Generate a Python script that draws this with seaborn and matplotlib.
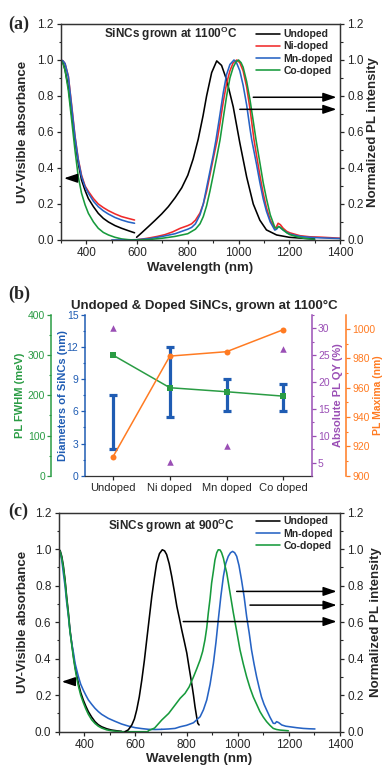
import numpy as np
import pandas as pd
import matplotlib
matplotlib.use("Agg")
import matplotlib.pyplot as plt
from matplotlib.ticker import MultipleLocator, FormatStrFormatter
import seaborn as sns

# ---------------- data: panel (a), SiNCs grown at 1100 C ----------------
a_abs_wl = [300, 308, 316, 329, 342, 355, 368, 381, 395, 408, 428, 447, 467, 487, 513, 539, 565, 590]
a_abs_undoped = [1.0, 0.985, 0.944, 0.85, 0.70, 0.556, 0.426, 0.333, 0.275, 0.23, 0.185, 0.148, 0.12, 0.10, 0.08, 0.065, 0.052, 0.04]
a_abs_ni = [1.0, 0.995, 0.98, 0.91, 0.75, 0.58, 0.45, 0.36, 0.30, 0.27, 0.23, 0.20, 0.18, 0.163, 0.145, 0.13, 0.12, 0.111]
a_abs_mn = [1.0, 0.995, 0.98, 0.907, 0.74, 0.574, 0.444, 0.352, 0.295, 0.26, 0.215, 0.185, 0.162, 0.144, 0.125, 0.111, 0.10, 0.093]
a_abs_co = [1.0, 0.98, 0.944, 0.83, 0.667, 0.50, 0.352, 0.26, 0.195, 0.148, 0.10, 0.065, 0.042, 0.028, 0.015, 0.006, 0.002, 0.0]

a_pl_undoped_wl = [598, 618, 645, 670, 697, 723, 750, 776, 800, 821, 841, 860, 874, 894, 914, 933, 953, 979, 1005, 1032, 1058, 1084, 1110, 1150, 1200, 1250, 1300]
a_pl_undoped = [0.015, 0.04, 0.075, 0.108, 0.145, 0.185, 0.235, 0.29, 0.36, 0.45, 0.56, 0.69, 0.80, 0.93, 0.995, 0.97, 0.89, 0.74, 0.54, 0.35, 0.20, 0.11, 0.056, 0.028, 0.015, 0.01, 0.006]

a_pl_ni_wl = [590, 620, 650, 680, 710, 740, 770, 800, 815, 830, 848, 861, 874, 887, 900, 916, 927, 940, 953, 966, 979, 993, 1005, 1018, 1032, 1045, 1061, 1071, 1084, 1097, 1110, 1125, 1143, 1150, 1156, 1165, 1176, 1190, 1202, 1242, 1280, 1320, 1360, 1400]
a_pl_ni = [0.0, 0.005, 0.012, 0.02, 0.03, 0.045, 0.065, 0.08, 0.09, 0.11, 0.15, 0.20, 0.27, 0.36, 0.45, 0.556, 0.65, 0.77, 0.87, 0.94, 0.985, 1.0, 0.985, 0.94, 0.85, 0.73, 0.556, 0.47, 0.36, 0.26, 0.18, 0.11, 0.065, 0.075, 0.093, 0.085, 0.065, 0.048, 0.04, 0.024, 0.018, 0.016, 0.013, 0.01]

a_pl_mn_wl = [500, 550, 600, 650, 700, 750, 800, 815, 830, 848, 861, 874, 887, 900, 911, 927, 940, 953, 966, 982, 992, 1005, 1018, 1032, 1045, 1052, 1071, 1084, 1097, 1110, 1125, 1143, 1150, 1158, 1165, 1176, 1190, 1202, 1242, 1280, 1320, 1360, 1400]
a_pl_mn = [0.0, 0.0, 0.002, 0.008, 0.02, 0.035, 0.06, 0.07, 0.09, 0.14, 0.20, 0.29, 0.38, 0.47, 0.556, 0.70, 0.82, 0.92, 0.975, 1.0, 0.985, 0.94, 0.86, 0.75, 0.62, 0.556, 0.42, 0.32, 0.23, 0.16, 0.10, 0.055, 0.06, 0.075, 0.068, 0.055, 0.042, 0.033, 0.02, 0.015, 0.012, 0.01, 0.008]

a_pl_co_wl = [550, 600, 650, 700, 750, 800, 830, 848, 861, 874, 887, 900, 914, 927, 940, 953, 966, 979, 990, 1000, 1010, 1018, 1032, 1045, 1058, 1069, 1084, 1097, 1110, 1125, 1143, 1150, 1158, 1165, 1176, 1190, 1202, 1230, 1255, 1280, 1300]
a_pl_co = [0.0, 0.0, 0.003, 0.01, 0.02, 0.035, 0.06, 0.09, 0.13, 0.19, 0.27, 0.36, 0.46, 0.556, 0.68, 0.80, 0.90, 0.96, 0.99, 1.0, 0.985, 0.96, 0.88, 0.78, 0.66, 0.556, 0.43, 0.32, 0.23, 0.14, 0.07, 0.065, 0.075, 0.07, 0.056, 0.04, 0.03, 0.018, 0.01, 0.006, 0.004]

# ---------------- data: panel (b) ----------------
b_categories = ["Undoped", "Ni doped", "Mn doped", "Co doped"]
b_fwhm_meV = [300, 219, 209, 198]
b_diam_low = [2.5, 5.5, 6.0, 6.0]
b_diam_high = [7.5, 12.0, 9.0, 8.6]
b_qy_pct = [30.0, 5.1, 8.2, 26.2]
b_pl_max_nm = [913, 981.5, 984.5, 999.5]

# ---------------- data: panel (c), SiNCs grown at 900 C ----------------
c_abs_undoped_wl = [300, 306, 312, 318, 325, 331, 338, 344, 351, 358, 364, 371, 377, 386, 396, 406, 416, 429, 442, 455, 468, 488, 507, 527, 546]
c_abs_undoped = [1.0, 0.99, 0.96, 0.91, 0.83, 0.74, 0.65, 0.56, 0.484, 0.41, 0.356, 0.305, 0.265, 0.215, 0.174, 0.14, 0.11, 0.08, 0.055, 0.038, 0.027, 0.016, 0.009, 0.005, 0.002]
c_abs_co_wl = [300, 306, 312, 318, 325, 331, 338, 344, 351, 358, 364, 371, 377, 386, 396, 406, 416, 429, 442, 455, 468, 488, 507, 527, 546, 600, 650]
c_abs_co = [1.0, 0.985, 0.95, 0.90, 0.82, 0.73, 0.64, 0.55, 0.475, 0.40, 0.345, 0.29, 0.25, 0.20, 0.16, 0.125, 0.095, 0.065, 0.045, 0.03, 0.02, 0.01, 0.005, 0.002, 0.0, 0.0, 0.0]
c_abs_mn_wl = [300, 306, 312, 318, 325, 331, 338, 344, 351, 358, 364, 371, 377, 386, 396, 406, 416, 429, 442, 455, 468, 494, 520, 546, 572, 599, 625, 651, 677, 703]
c_abs_mn = [1.0, 0.98, 0.94, 0.87, 0.795, 0.71, 0.63, 0.55, 0.484, 0.43, 0.375, 0.335, 0.302, 0.26, 0.228, 0.20, 0.174, 0.15, 0.128, 0.11, 0.095, 0.073, 0.057, 0.042, 0.031, 0.022, 0.017, 0.013, 0.012, 0.013]

c_pl_undoped_wl = [559, 572, 586, 596, 605, 615, 625, 635, 644, 654, 664, 674, 683, 694, 705, 714, 722, 732, 742, 752, 762, 772, 781, 791, 801, 810, 820, 827, 833, 839, 844, 849]
c_pl_undoped = [0.0, 0.01, 0.037, 0.07, 0.119, 0.19, 0.283, 0.39, 0.50, 0.62, 0.74, 0.84, 0.923, 0.975, 0.996, 0.99, 0.97, 0.92, 0.85, 0.77, 0.686, 0.62, 0.558, 0.495, 0.43, 0.35, 0.265, 0.20, 0.137, 0.085, 0.046, 0.037]
c_pl_co_wl = [650, 675, 703, 730, 755, 775, 794, 810, 827, 840, 853, 863, 872, 879, 885, 892, 898, 905, 911, 918, 924, 931, 937, 944, 950, 957, 970, 983, 996, 1009, 1022, 1035, 1048, 1061, 1074, 1087, 1100, 1113, 1126, 1139, 1152, 1165, 1182, 1198]
c_pl_co = [0.005, 0.02, 0.064, 0.10, 0.146, 0.183, 0.21, 0.245, 0.30, 0.345, 0.393, 0.44, 0.503, 0.57, 0.65, 0.73, 0.814, 0.88, 0.94, 0.98, 0.996, 0.995, 0.98, 0.95, 0.91, 0.87, 0.76, 0.65, 0.55, 0.448, 0.37, 0.30, 0.24, 0.19, 0.15, 0.11, 0.08, 0.055, 0.035, 0.018, 0.012, 0.009, 0.007, 0.005]
c_pl_mn_wl = [703, 730, 755, 775, 800, 827, 853, 866, 879, 892, 905, 915, 924, 934, 944, 953, 963, 972, 980, 988, 996, 1005, 1015, 1025, 1035, 1045, 1054, 1064, 1074, 1084, 1093, 1103, 1113, 1126, 1139, 1146, 1152, 1160, 1172, 1188, 1204, 1230, 1256, 1280, 1302]
c_pl_mn = [0.013, 0.015, 0.018, 0.027, 0.035, 0.049, 0.082, 0.12, 0.174, 0.26, 0.375, 0.49, 0.612, 0.74, 0.85, 0.92, 0.96, 0.98, 0.987, 0.98, 0.96, 0.91, 0.83, 0.74, 0.63, 0.54, 0.448, 0.37, 0.30, 0.24, 0.19, 0.15, 0.119, 0.08, 0.046, 0.045, 0.055, 0.05, 0.037, 0.03, 0.027, 0.022, 0.018, 0.016, 0.015]

# ---------------- style ----------------
sns.set_style("ticks")
plt.rcParams['font.family'] = ['Liberation Sans', 'DejaVu Sans']
plt.rcParams['mathtext.fontset'] = 'custom'
plt.rcParams['mathtext.rm'] = 'Liberation Sans'
plt.rcParams['mathtext.bf'] = 'Liberation Sans:bold'
plt.rcParams['axes.linewidth'] = 0.9
plt.rcParams['axes.edgecolor'] = '#333333'

BLACK = '#000000'
RED = '#f02a2a'
BLUE = '#2663c4'
GREEN = '#179a3c'
B_GREEN = '#2a9c44'
B_BLUE = '#1f5cb3'
B_PURPLE = '#9a4fb5'
B_ORANGE = '#ff7b22'

W, H = 382, 767
fig = plt.figure(figsize=(W / 100, H / 100), dpi=100)


def rect(l, t, r, b):
    return [l / W, 1 - b / H, (r - l) / W, (b - t) / H]


def line(ax, x, y, color, label=None, lw=1.15):
    sns.lineplot(x=x, y=y, ax=ax, color=color, lw=lw, sort=False,
                 estimator=None, label=label, legend=False)


def spectrum_axes(ax):
    ax.set_xlim(300, 1400)
    ax.set_ylim(0, 1.2)
    ax.xaxis.set_major_locator(MultipleLocator(200))
    ax.xaxis.set_minor_locator(MultipleLocator(100))
    ax.yaxis.set_major_locator(MultipleLocator(0.2))
    ax.yaxis.set_minor_locator(MultipleLocator(0.1))
    ax.yaxis.set_major_formatter(FormatStrFormatter('%.1f'))
    ax.tick_params(which='major', length=3.2, width=0.9, labelsize=8.5, pad=2, top=False, right=False)
    ax.tick_params(which='minor', length=1.8, width=0.8, top=False, right=False)
    ax.set_xlabel('Wavelength (nm)', fontsize=9.5, fontweight='bold')
    ax.set_ylabel('UV-Visible absorbance', fontsize=9.5, fontweight='bold')
    ax2 = ax.twinx()
    ax2.set_ylim(0, 1.2)
    ax2.yaxis.set_major_locator(MultipleLocator(0.2))
    ax2.yaxis.set_minor_locator(MultipleLocator(0.1))
    ax2.yaxis.set_major_formatter(FormatStrFormatter('%.1f'))
    ax2.tick_params(which='major', length=3.2, width=0.9, labelsize=8.5, pad=2)
    ax2.tick_params(which='minor', length=1.8, width=0.8)
    ax2.set_ylabel('Normalized PL intensity', fontsize=9.5, fontweight='bold')
    return ax2


def arrow(ax, x0, x1, y):
    ax.annotate('', xy=(x1, y), xytext=(x0, y),
                arrowprops=dict(arrowstyle='-|>,head_length=0.8,head_width=0.27',
                                color='black', lw=1.1, mutation_scale=10,
                                shrinkA=0, shrinkB=0))


# ---------------- panel (a) ----------------
axA = fig.add_axes(rect(61, 24, 340, 240))
line(axA, a_abs_wl, a_abs_undoped, BLACK)
line(axA, a_abs_wl, a_abs_ni, RED)
line(axA, a_abs_wl, a_abs_mn, BLUE)
line(axA, a_abs_wl, a_abs_co, GREEN)
line(axA, a_pl_undoped_wl, a_pl_undoped, BLACK, 'Undoped')
line(axA, a_pl_ni_wl, a_pl_ni, RED, 'Ni-doped')
line(axA, a_pl_mn_wl, a_pl_mn, BLUE, 'Mn-doped')
line(axA, a_pl_co_wl, a_pl_co, GREEN, 'Co-doped')
axA2 = spectrum_axes(axA)
axA.xaxis.set_label_coords(0.5, -0.10)
axA.yaxis.set_label_coords(-0.115, 0.5)
axA2.yaxis.set_label_coords(1.097, 0.5)
axA.text(0.394, 0.955, r'SiNCs grown at 1100$^{\mathbf{O}}$C', transform=axA.transAxes,
         ha='center', va='center', fontsize=8.5, fontweight='bold')
axA.legend(loc='upper right', bbox_to_anchor=(0.975, 0.975), frameon=False,
           prop={'weight': 'bold', 'size': 7.5}, handlelength=2.3,
           labelspacing=0.2, handletextpad=0.3, borderaxespad=0, borderpad=0)
arrow(axA, 365, 312, 0.343)
arrow(axA, 1058, 1386, 0.793)
arrow(axA, 1005, 1386, 0.726)

# ---------------- panel (b) ----------------
axB = fig.add_axes(rect(84.7, 315, 311.7, 475.7))
xpos = np.arange(len(b_categories))
axB.errorbar(xpos, b_diam_low, yerr=[np.zeros(len(xpos)), np.subtract(b_diam_high, b_diam_low)],
             fmt='none', ecolor=B_BLUE, elinewidth=2.3, capsize=3.2, capthick=2.3, zorder=2)
axB.set_xlim(-0.5, 3.5)
axB.set_ylim(0, 15)
axB.set_xticks(xpos)
axB.set_xticklabels(b_categories)
axB.yaxis.set_major_locator(MultipleLocator(3))
axB.yaxis.set_minor_locator(MultipleLocator(1.5))
axB.tick_params(axis='x', labelsize=8, length=3, width=0.9, pad=2, top=False)
axB.tick_params(axis='y', which='major', colors=B_BLUE, labelsize=7.5, length=3, width=0.9, pad=1.5, right=False)
axB.tick_params(axis='y', which='minor', colors=B_BLUE, length=1.7, width=0.8, right=False)
axB.spines['top'].set_visible(False)
axB.spines['right'].set_visible(False)
axB.spines['left'].set_color(B_BLUE)
axB.spines['left'].set_linewidth(1.1)
axB.set_ylabel('Diameters of SiNCs (nm)', color=B_BLUE, fontsize=8, fontweight='bold')
axB.yaxis.set_label_coords(-0.075, 0.5)

# green FWHM axis
axG = axB.twinx()
axG.spines['left'].set_position(('outward', 24))
axG.spines['left'].set_visible(True)
axG.spines['left'].set_color(B_GREEN)
axG.spines['left'].set_linewidth(1.1)
for s in ['right', 'top', 'bottom']:
    axG.spines[s].set_visible(False)
axG.yaxis.set_label_position('left')
axG.yaxis.set_ticks_position('left')
axG.set_ylim(0, 400)
axG.yaxis.set_major_locator(MultipleLocator(100))
axG.yaxis.set_minor_locator(MultipleLocator(50))
axG.tick_params(axis='y', which='major', colors=B_GREEN, labelsize=7.5, length=3, width=0.9, pad=1.5)
axG.tick_params(axis='y', which='minor', colors=B_GREEN, length=1.7, width=0.8)
sns.lineplot(x=xpos, y=b_fwhm_meV, ax=axG, color=B_GREEN, lw=1.1, marker='s',
             markersize=4, markeredgewidth=0, sort=False, estimator=None, legend=False)
axG.set_ylabel('PL FWHM (meV)', color=B_GREEN, fontsize=8, fontweight='bold')
axG.yaxis.set_label_coords(-0.262, 0.5)

# purple QY axis
axP = axB.twinx()
for s in ['left', 'top', 'bottom']:
    axP.spines[s].set_visible(False)
axP.spines['right'].set_color(B_PURPLE)
axP.spines['right'].set_linewidth(1.1)
axP.set_ylim(2.6, 32.5)
axP.yaxis.set_major_locator(MultipleLocator(5))
axP.yaxis.set_minor_locator(MultipleLocator(2.5))
axP.tick_params(axis='y', which='major', colors=B_PURPLE, labelsize=7.5, length=3, width=0.9, pad=1.5)
axP.tick_params(axis='y', which='minor', colors=B_PURPLE, length=1.7, width=0.8)
sns.scatterplot(x=xpos, y=b_qy_pct, ax=axP, color=B_PURPLE, marker='^', s=22,
                linewidth=0, legend=False)
axP.set_ylabel('Absolute PL QY (%)', color=B_PURPLE, fontsize=8, fontweight='bold')
axP.yaxis.set_label_coords(1.095, 0.5)

# orange PL maxima axis
axO = axB.twinx()
for s in ['left', 'top', 'bottom']:
    axO.spines[s].set_visible(False)
axO.spines['right'].set_position(('outward', 24.7))
axO.spines['right'].set_color(B_ORANGE)
axO.spines['right'].set_linewidth(1.1)
axO.set_ylim(900, 1009.5)
axO.yaxis.set_major_locator(MultipleLocator(20))
axO.yaxis.set_minor_locator(MultipleLocator(10))
axO.tick_params(axis='y', which='major', colors=B_ORANGE, labelsize=7.5, length=3, width=0.9, pad=1.5)
axO.tick_params(axis='y', which='minor', colors=B_ORANGE, length=1.7, width=0.8)
sns.lineplot(x=xpos, y=b_pl_max_nm, ax=axO, color=B_ORANGE, lw=1.1, marker='o',
             markersize=4.3, markeredgewidth=0, sort=False, estimator=None, legend=False)
axO.set_ylabel('PL Maxima (nm)', color=B_ORANGE, fontsize=7.5, fontweight='bold')
axO.yaxis.set_label_coords(1.268, 0.5)

fig.text(204 / W, 1 - 306 / H, 'Undoped & Doped SiNCs, grown at 1100°C', ha='center', va='center',
         fontsize=9.5, fontweight='bold')

# ---------------- panel (c) ----------------
axC = fig.add_axes(rect(58.7, 512.5, 340, 731.7))
line(axC, c_abs_undoped_wl, c_abs_undoped, BLACK)
line(axC, c_abs_mn_wl, c_abs_mn, BLUE)
line(axC, c_abs_co_wl, c_abs_co, GREEN)
line(axC, c_pl_undoped_wl, c_pl_undoped, BLACK, 'Undoped')
line(axC, c_pl_mn_wl, c_pl_mn, BLUE, 'Mn-doped')
line(axC, c_pl_co_wl, c_pl_co, GREEN, 'Co-doped')
axC2 = spectrum_axes(axC)
axC.xaxis.set_label_coords(0.5, -0.095)
axC.yaxis.set_label_coords(-0.105, 0.5)
axC2.yaxis.set_label_coords(1.105, 0.5)
axC.text(0.399, 0.94, r'SiNCs grown at 900$^{\mathbf{O}}$C', transform=axC.transAxes,
         ha='center', va='center', fontsize=8.5, fontweight='bold')
axC.legend(loc='upper right', bbox_to_anchor=(0.975, 0.982), frameon=False,
           prop={'weight': 'bold', 'size': 7.5}, handlelength=2.3,
           labelspacing=0.2, handletextpad=0.3, borderaxespad=0, borderpad=0)
arrow(axC, 364, 312, 0.274)
arrow(axC, 996, 1387, 0.768)
arrow(axC, 1048, 1387, 0.693)
arrow(axC, 787, 1387, 0.603)

# panel letters
for lab, yy in [('(a)', 24.5), ('(b)', 294), ('(c)', 511)]:
    fig.text(8 / W, 1 - yy / H, lab, fontfamily=['Liberation Serif', 'DejaVu Serif'],
             fontweight='bold', fontsize=13, va='center', ha='left')

fig.savefig('out.png', dpi=100)
